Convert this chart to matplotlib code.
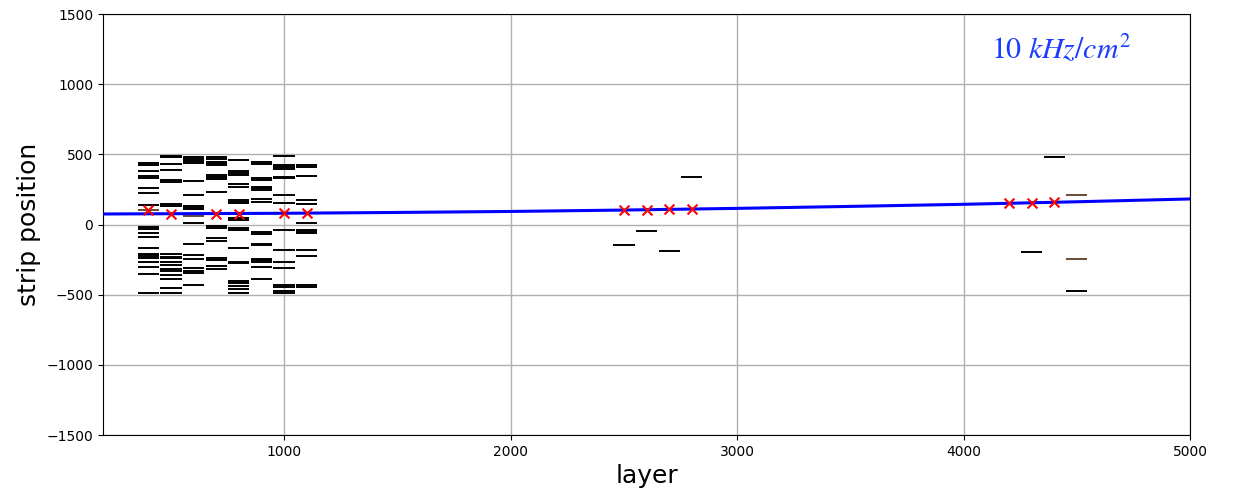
import numpy as np
import matplotlib
matplotlib.use("Agg")
import matplotlib.pyplot as plt

# hits per layer (strip position)
hits_400 = [438, 421, 378, 345, 330, 260, 223, 139, -18, -35, -62, -92, -170, -208, -224, -240, -268, -300, -356, -488]
hits_500 = [490, 478, 430, 385, 318, 302, 148, 130, -212, -228, -242, -265, -290, -315, -330, -362, -390, -452, -488]
hits_600 = [481, 467, 452, 437, 313, 210, 132, 120, 108, 10, -141, -214, -248, -312, -330, -344, -432]
hits_700 = [484, 465, 448, 436, 422, 353, 336, 322, 229, -11, -22, -99, -115, -240, -252, -295, -320]
hits_800 = [460, 383, 369, 353, 289, 270, 175, 163, 151, 44, 32, -22, -39, -165, -265, -277, -400, -419, -438, -462, -490]
hits_900 = [448, 431, 329, 317, 270, 258, 246, 180, 163, -53, -65, -136, -143, -243, -255, -267, -303, -386]
hits_1000 = [488, 424, 407, 393, 341, 329, 210, 156, -39, -181, -265, -312, -431, -443, -474, -490]
hits_1100 = [424, 407, 345, 177, 144, 11, -39, -51, -63, -181, -224, -431, -443]
hits_2500 = [-144]
hits_2600 = [-48]
hits_2700 = [-190]
hits_2800 = [338]
hits_4300 = [-196]
hits_4400 = [479]
hits_4500 = [-472]

layers = [400, 500, 600, 700, 800, 900, 1000, 1100, 2500, 2600, 2700, 2800, 4300, 4400, 4500]
hits = [hits_400, hits_500, hits_600, hits_700, hits_800, hits_900, hits_1000, hits_1100,
        hits_2500, hits_2600, hits_2700, hits_2800, hits_4300, hits_4400, hits_4500]

# brown hits
brown_layers = [400, 600, 4500, 4500]
brown_hits = [105, 60, 213, -246]

# selected points (red x)
sel_layers = [400, 500, 700, 800, 1000, 1100, 2500, 2600, 2700, 2800, 4200, 4300, 4400]
sel_strips = [105, 78, 78, 76, 83, 83, 103, 104, 108, 110, 151, 155, 162]

# fitted track
fit_layer = [200, 1000, 1500, 2000, 2500, 3000, 3500, 4000, 4500, 5000]
fit_strip = [75, 80, 86, 93, 103, 115, 129, 144, 162, 182]

half_w = 47

plt.rcParams["mathtext.fontset"] = "stix"

fig = plt.figure(figsize=(12.39, 4.95), dpi=100)
ax = fig.add_axes([0.0831, 0.1212, 0.8774, 0.8505])

for lay, ys in zip(layers, hits):
    ax.hlines(ys, lay - half_w, lay + half_w, colors="black", linewidth=1.4, zorder=2)
for lay, y in zip(brown_layers, brown_hits):
    ax.hlines(y, lay - half_w, lay + half_w, colors="#6b4a33", linewidth=1.4, zorder=2)

ax.plot(fit_layer, fit_strip, color="blue", linewidth=2.2, zorder=3)
ax.scatter(sel_layers, sel_strips, marker="x", color="red", s=50, linewidths=1.5, zorder=4)

ax.set_xlim(200, 5000)
ax.set_ylim(-1500, 1500)
ax.set_xticks([1000, 2000, 3000, 4000, 5000])
ax.set_yticks(np.arange(-1500, 1501, 500))
ax.grid(True, color="#b0b0b0", linewidth=1.0)
ax.set_axisbelow(True)
ax.tick_params(labelsize=10)
ax.set_xlabel("layer", fontsize=18, labelpad=4)
ax.set_ylabel("strip position", fontsize=18)

ax.text(0.881, 0.915, r"$10\ kHz/cm^2$", transform=ax.transAxes, color="#1a3cff",
        fontsize=21.5, ha="center", va="center")

fig.savefig("out.png", dpi=100)
